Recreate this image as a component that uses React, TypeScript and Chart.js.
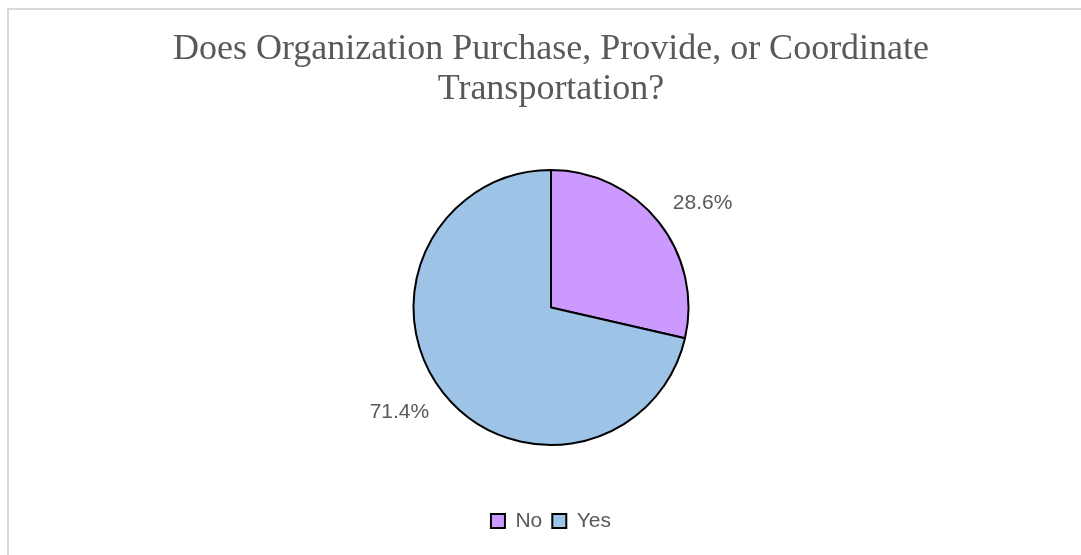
import React, { useEffect, useRef } from "react";
import { Chart, registerables } from "chart.js";

Chart.register(...registerables);

const categories: string[] = ["No", "Yes"];
const values: number[] = [28.6, 71.4];
const sliceColors: string[] = ["#CC99FF", "#9DC3E6"];
const titleLines: string[] = [
  "Does Organization Purchase, Provide, or Coordinate",
  "Transportation?",
];

const GRAY = "#595959";

const framePlugin = {
  id: "frame",
  beforeDraw(chart: any) {
    const ctx = chart.ctx;
    ctx.save();
    ctx.fillStyle = "#ffffff";
    ctx.fillRect(0, 0, chart.width, chart.height);
    ctx.fillStyle = "#d9d9d9";
    ctx.fillRect(7, 8, 2, chart.height - 8);
    ctx.fillRect(7, 8, chart.width - 7, 2);
    ctx.restore();
  },
};

const labelPlugin = {
  id: "sliceLabels",
  afterDatasetsDraw(chart: any) {
    const ctx = chart.ctx;
    const meta = chart.getDatasetMeta(0);
    const data = chart.data.datasets[0].data as number[];
    const total = data.reduce((a, b) => a + b, 0);
    ctx.save();
    ctx.font = "21px 'Liberation Sans', Arial, sans-serif";
    ctx.fillStyle = GRAY;
    ctx.textAlign = "center";
    ctx.textBaseline = "middle";
    meta.data.forEach((arc: any, i: number) => {
      const p = arc.getProps(["x", "y", "startAngle", "endAngle", "outerRadius"], true);
      const mid = (p.startAngle + p.endAngle) / 2 + (4 * Math.PI) / 180;
      const dist = p.outerRadius * 1.338;
      const x = p.x + Math.cos(mid) * dist;
      const y = p.y + Math.sin(mid) * dist;
      const pct = ((data[i] / total) * 100).toFixed(1) + "%";
      ctx.fillText(pct, x, y);
    });
    ctx.restore();
  },
};

export default function App() {
  const canvasRef = useRef<HTMLCanvasElement | null>(null);

  useEffect(() => {
    if (!canvasRef.current) return;
    const chart = new Chart(canvasRef.current, {
      type: "pie",
      data: {
        labels: categories,
        datasets: [
          {
            data: values,
            backgroundColor: sliceColors,
            borderColor: "#000000",
            borderWidth: 2,
            radius: 137.5,
          } as any,
        ],
      },
      options: {
        responsive: false,
        animation: false,
        devicePixelRatio: 1,
        layout: { padding: { left: 21, right: 0, top: 0, bottom: 13.5 } },
        plugins: {
          title: {
            display: true,
            text: titleLines,
            color: GRAY,
            font: { family: "'Liberation Serif', 'Times New Roman', serif", size: 36, weight: "normal", lineHeight: 40 / 36 },
            padding: { top: 30, bottom: 4.5 },
          },
          legend: {
            display: true,
            position: "bottom",
            labels: {
              color: GRAY,
              font: { family: "'Liberation Sans', Arial, sans-serif", size: 21 },
              boxWidth: 14,
              boxHeight: 14,
              padding: 10,
            },
          },
          tooltip: { enabled: false },
        },
      },
      plugins: [framePlugin, labelPlugin],
    });
    return () => chart.destroy();
  }, []);

  return (
    <div style={{ position: "absolute", left: 0, top: 0, width: 1081, height: 555 }}>
      <canvas ref={canvasRef} width={1081} height={555} style={{ display: "block" }} />
    </div>
  );
}
